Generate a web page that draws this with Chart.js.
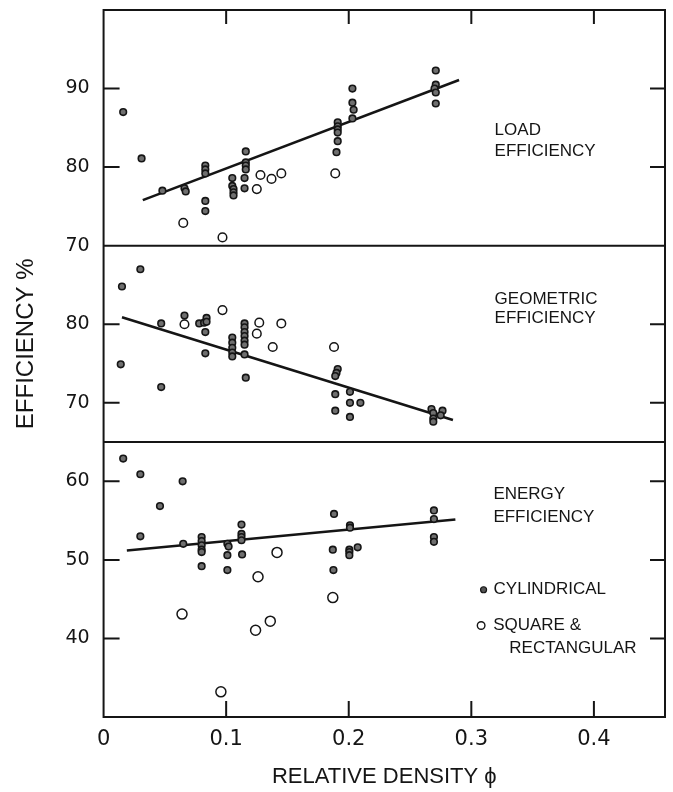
<!DOCTYPE html>
<html lang="en">
<head>
<meta charset="UTF-8">
<title>Efficiency vs relative density</title>
<script src="https://cdn.jsdelivr.net/npm/chart.js@4.4.1/dist/chart.umd.min.js"></script>
<style>
  html, body { margin: 0; padding: 0; background: #fff; }
  #wrap { width: 673px; height: 792px; }
</style>
</head>
<body>
<div id="wrap"><canvas id="effChart" width="673" height="792"></canvas></div>

<script>
// values: [relative density, efficiency %]
const loadCyl = [
  [0.016, 87.0], [0.031, 81.1], [0.048, 77.0], [0.066, 77.3], [0.067, 76.9],
  [0.083, 80.2], [0.083, 79.7], [0.083, 79.2], [0.083, 75.7], [0.083, 74.4],
  [0.105, 78.6], [0.105, 77.6], [0.106, 77.2], [0.106, 76.8], [0.106, 76.4],
  [0.116, 82.0], [0.116, 80.6], [0.116, 80.2], [0.116, 79.7], [0.115, 78.6], [0.115, 77.3],
  [0.191, 85.7], [0.191, 85.2], [0.191, 84.8], [0.191, 84.4], [0.191, 83.3], [0.190, 81.9],
  [0.203, 90.0], [0.203, 88.2], [0.204, 87.3], [0.203, 86.2],
  [0.271, 92.3], [0.271, 90.5], [0.270, 90.0], [0.271, 89.5], [0.271, 88.1]
];
const loadSq = [
  [0.065, 72.9], [0.097, 71.05], [0.128, 79.0], [0.125, 77.2], [0.137, 78.5], [0.145, 79.2], [0.189, 79.2]
];
const loadFit = [[0.032, 75.8], [0.290, 91.1]];

const geoCyl = [
  [0.015, 84.8], [0.030, 87.0], [0.014, 74.9], [0.047, 80.1], [0.047, 72.0], [0.066, 81.1],
  [0.078, 80.1], [0.082, 80.2], [0.084, 80.8], [0.084, 80.3], [0.083, 79.0], [0.083, 76.3],
  [0.105, 78.3], [0.105, 77.65], [0.105, 77.0], [0.105, 76.4], [0.105, 75.9],
  [0.115, 80.1], [0.115, 79.6], [0.115, 79.0], [0.115, 78.5], [0.115, 77.9], [0.115, 77.4],
  [0.115, 76.15], [0.116, 73.2],
  [0.191, 74.3], [0.190, 73.8], [0.189, 73.4], [0.189, 71.1], [0.189, 69.0],
  [0.201, 71.4], [0.201, 70.0], [0.2095, 70.0], [0.201, 68.2],
  [0.2675, 69.2], [0.269, 68.7], [0.269, 68.0], [0.269, 67.6], [0.2765, 69.0], [0.275, 68.4]
];
const geoSq = [
  [0.066, 80.0], [0.097, 81.8], [0.127, 80.2], [0.125, 78.8], [0.138, 77.1], [0.145, 80.1], [0.188, 77.1]
];
const geoFit = [[0.015, 80.9], [0.285, 67.8]];

const energyCyl = [
  [0.016, 62.9], [0.030, 60.9], [0.030, 53.0], [0.046, 56.85], [0.0645, 60.0], [0.065, 52.05],
  [0.080, 52.9], [0.080, 52.4], [0.080, 51.85], [0.080, 51.3], [0.080, 51.0], [0.080, 49.2],
  [0.101, 52.05], [0.102, 51.7], [0.101, 50.6], [0.101, 48.7],
  [0.1125, 54.5], [0.1125, 53.3], [0.1125, 52.9], [0.1125, 52.5], [0.113, 50.7],
  [0.188, 55.85], [0.187, 51.3], [0.1875, 48.7],
  [0.2005, 51.3], [0.2005, 51.0], [0.2005, 50.6], [0.2073, 51.6], [0.201, 54.4], [0.201, 54.1],
  [0.2695, 56.3], [0.2695, 55.2], [0.2695, 52.9], [0.2695, 52.3]
];
const energySq = [
  [0.064, 43.1], [0.0957, 33.2], [0.126, 47.85], [0.124, 41.05], [0.136, 42.2], [0.1415, 50.95], [0.187, 45.2]
];
const energyFit = [[0.019, 51.2], [0.287, 55.15]];

// tick labels
const xTicks = [0, 0.1, 0.2, 0.3, 0.4];
const loadTicks = [70, 80, 90];
const geoTicks = [70, 80];
const energyTicks = [40, 50, 60];

const pts = arr => arr.map(p => ({ x: p[0], y: p[1] }));

const ink = '#151515';
const tickFont = { family: "'DejaVu Sans', sans-serif", size: 19 };
const labelFont = "17px 'Liberation Sans', Arial, sans-serif";
const noPad = s => { s.paddingTop = 0; s.paddingBottom = 0; s.paddingLeft = 0; s.paddingRight = 0; };

function cylSet(data, axis) {
  return {
    label: 'CYLINDRICAL', data: pts(data), yAxisID: axis,
    pointRadius: 3.3, pointBorderWidth: 1.6,
    pointBackgroundColor: '#6f6f6f', pointBorderColor: ink, clip: false
  };
}
function sqSet(data, axis, r) {
  return {
    label: 'SQUARE & RECTANGULAR', data: pts(data), yAxisID: axis,
    pointRadius: r, pointBorderWidth: 1.5,
    pointBackgroundColor: '#fff', pointBorderColor: ink, clip: false
  };
}
function fitSet(data, axis) {
  return {
    type: 'line', label: 'fit', data: pts(data), yAxisID: axis,
    showLine: true, borderColor: ink, borderWidth: 2.6, pointRadius: 0, fill: false, clip: false
  };
}

function yAxis(weight, min, max, ticks, extra) {
  return Object.assign({
    type: 'linear', position: 'left', stack: 'eff', stackWeight: weight,
    min: min, max: max,
    afterBuildTicks: s => { s.ticks = ticks.map(v => ({ value: v })); },
    afterFit: noPad,
    grid: { display: false, drawTicks: false }, border: { display: false },
    ticks: { font: tickFont, color: ink, padding: 14 }
  }, extra || {});
}

// frame, panel dividers, inward ticks, panel names and key
const framePlugin = {
  id: 'frame',
  afterDraw(chart) {
    const { ctx, chartArea: a, scales } = chart;
    const sx = scales.x;
    ctx.save();
    ctx.strokeStyle = ink;
    ctx.lineWidth = 2;
    ctx.strokeRect(a.left, a.top, a.right - a.left, a.bottom - a.top);

    ctx.beginPath();
    [scales.yLoad, scales.yGeo].forEach(s => {
      ctx.moveTo(a.left, s.bottom);
      ctx.lineTo(a.right, s.bottom);
    });
    [[scales.yLoad, loadTicks], [scales.yGeo, geoTicks], [scales.yEnergy, energyTicks]].forEach(([s, tv]) => {
      tv.forEach(v => {
        const py = s.getPixelForValue(v);
        ctx.moveTo(a.left, py); ctx.lineTo(a.left + 16, py);
        ctx.moveTo(a.right - 15, py); ctx.lineTo(a.right, py);
      });
    });
    xTicks.slice(1).forEach(v => {
      const px = sx.getPixelForValue(v);
      ctx.moveTo(px, a.bottom); ctx.lineTo(px, a.bottom - 16);
      ctx.moveTo(px, a.top); ctx.lineTo(px, a.top + 14);
    });
    ctx.stroke();

    ctx.fillStyle = ink;
    ctx.font = labelFont;
    ctx.textBaseline = 'middle';
    ctx.textAlign = 'left';
    const put = (txt, xv, s, yv) => ctx.fillText(txt, sx.getPixelForValue(xv), s.getPixelForValue(yv));
    put('LOAD', 0.319, scales.yLoad, 84.7);
    put('EFFICIENCY', 0.319, scales.yLoad, 82.0);
    put('GEOMETRIC', 0.319, scales.yGeo, 83.2);
    put('EFFICIENCY', 0.319, scales.yGeo, 80.8);
    put('ENERGY', 0.318, scales.yEnergy, 58.3);
    put('EFFICIENCY', 0.318, scales.yEnergy, 55.4);

    // key
    const ye = scales.yEnergy;
    let px = sx.getPixelForValue(0.310), py = ye.getPixelForValue(46.2);
    ctx.beginPath(); ctx.arc(px, py, 3, 0, Math.PI * 2);
    ctx.fillStyle = '#555'; ctx.fill(); ctx.lineWidth = 1.2; ctx.stroke();
    ctx.fillStyle = ink;
    ctx.fillText('CYLINDRICAL', px + 10, py);
    px = sx.getPixelForValue(0.308); py = ye.getPixelForValue(41.65);
    ctx.beginPath(); ctx.arc(px, py, 3.8, 0, Math.PI * 2);
    ctx.fillStyle = '#fff'; ctx.fill(); ctx.lineWidth = 1.4; ctx.stroke();
    ctx.fillStyle = ink;
    ctx.fillText('SQUARE &', px + 12, py);
    put('RECTANGULAR', 0.331, ye, 38.7);
    ctx.restore();
  }
};

new Chart(document.getElementById('effChart'), {
  type: 'scatter',
  data: {
    datasets: [
      cylSet(loadCyl, 'yLoad'), sqSet(loadSq, 'yLoad', 4.3), fitSet(loadFit, 'yLoad'),
      cylSet(geoCyl, 'yGeo'), sqSet(geoSq, 'yGeo', 4.3), fitSet(geoFit, 'yGeo'),
      cylSet(energyCyl, 'yEnergy'), sqSet(energySq, 'yEnergy', 5), fitSet(energyFit, 'yEnergy')
    ]
  },
  options: {
    responsive: false,
    animation: false,
    layout: { padding: { top: 10, right: 8, bottom: 0, left: 5.6 } },
    plugins: { legend: { display: false }, tooltip: { enabled: false } },
    scales: {
      x: {
        type: 'linear', position: 'bottom', min: 0, max: 0.458,
        afterBuildTicks: s => { s.ticks = xTicks.map(v => ({ value: v })); },
        afterFit: noPad,
        grid: { display: false, drawTicks: false }, border: { display: false },
        ticks: { font: { family: "'DejaVu Sans', sans-serif", size: 21 }, color: ink, padding: 10 },
        title: {
          display: true, text: 'RELATIVE DENSITY ϕ', color: ink,
          font: { family: "'Liberation Sans', Arial, sans-serif", size: 22 },
          padding: { top: 1.6, bottom: 1.8 }
        }
      },
      yEnergy: yAxis(35, 30, 65, energyTicks),
      yGeo: yAxis(25, 65, 90, geoTicks, {
        title: {
          display: true, text: 'EFFICIENCY %', color: ink,
          font: { family: "'Liberation Sans', Arial, sans-serif", size: 24 },
          padding: { top: 6, bottom: 11 }
        }
      }),
      yLoad: yAxis(30, 70, 100, loadTicks)
    }
  },
  plugins: [framePlugin]
});
</script>
</body>
</html>
